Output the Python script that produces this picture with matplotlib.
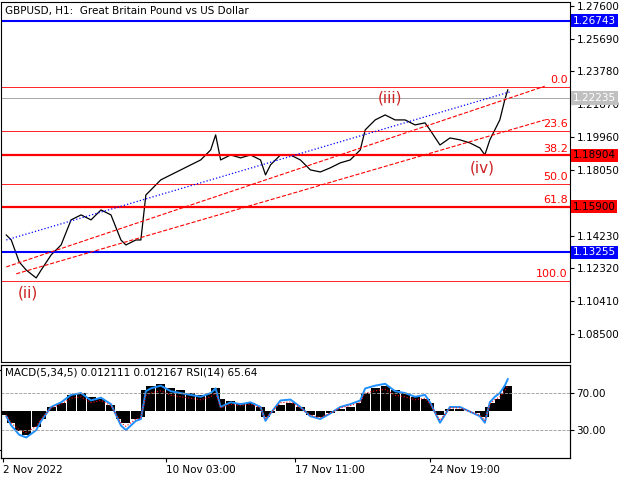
import matplotlib.pyplot as plt
import numpy as np

# price path (bar position, close)
bar_x = [5, 10, 18, 25, 35, 40, 50, 60, 70, 80, 90, 100, 110, 120, 125, 135, 140, 145, 150, 160,
         170, 180, 190, 200, 210, 215, 220, 230, 240, 250, 260, 265, 270, 280, 290, 300, 310, 320,
         330, 340, 350, 360, 365, 375, 385, 395, 405, 415, 425, 430, 440, 450, 460, 470, 480, 485,
         490, 495, 500, 505, 508]
close = [1.1426, 1.1397, 1.1269, 1.1222, 1.1176, 1.1222, 1.1310, 1.1368, 1.1514, 1.1543, 1.1514,
         1.1572, 1.1543, 1.1397, 1.1368, 1.1397, 1.1397, 1.1659, 1.1688, 1.1747, 1.1776, 1.1805,
         1.1834, 1.1863, 1.1921, 1.2009, 1.1863, 1.1892, 1.1875, 1.1892, 1.1863, 1.1776, 1.1834,
         1.1892, 1.1892, 1.1863, 1.1805, 1.1793, 1.1817, 1.1846, 1.1863, 1.1921, 1.2038, 1.2096,
         1.2125, 1.2096, 1.2096, 1.2067, 1.2079, 1.2038, 1.1950, 1.1991, 1.1980, 1.1962, 1.1933,
         1.1892, 1.1980, 1.2038, 1.2096, 1.2213, 1.2271]
macd = [-0.002, -0.006, -0.010, -0.012, -0.008, -0.004, 0.002, 0.004, 0.008, 0.009, 0.007, 0.006,
        0.003, -0.004, -0.006, -0.004, -0.003, 0.010, 0.012, 0.013, 0.011, 0.010, 0.009, 0.008,
        0.009, 0.011, 0.006, 0.005, 0.004, 0.004, 0.002, -0.003, -0.001, 0.003, 0.004, 0.002,
        -0.002, -0.003, -0.001, 0.001, 0.002, 0.004, 0.009, 0.011, 0.012, 0.010, 0.009, 0.007,
        0.006, 0.004, -0.002, 0.001, 0.001, 0.000, -0.001, -0.003, 0.002, 0.004, 0.006, 0.009, 0.012]
rsi = [45, 35, 25, 22, 30, 40, 55, 60, 68, 70, 62, 65, 58, 35, 30, 40, 42, 72, 75, 78, 72, 70,
       68, 66, 70, 75, 55, 60, 58, 60, 55, 40, 48, 62, 63, 55, 45, 42, 48, 55, 58, 62, 75, 78,
       80, 72, 70, 66, 68, 60, 38, 55, 55, 50, 45, 38, 60, 66, 70, 78, 85]

fib_levels = [1.2288, 1.2032, 1.1890, 1.1723, 1.1590, 1.1158]
fib_names = ['0.0', '23.6', '38.2', '50.0', '61.8', '100.0']
right_ticks = [1.27600, 1.25690, 1.23780, 1.21870, 1.19960, 1.18050, 1.14230,
               1.12320, 1.10410, 1.08500]
x_tick_pos = [2, 165, 295, 430]
x_tick_labels = ['2 Nov 2022', '10 Nov 03:00', '17 Nov 11:00', '24 Nov 19:00']

fig = plt.figure(figsize=(6.4, 4.8), dpi=100)
ax = fig.add_axes([0.002, 0.246, 0.888, 0.75])
ax.set_xlim(0, 570)
ax.set_ylim(1.0687, 1.2783)
ax.plot(bar_x, close, color='black', lw=0.9)

# horizontal levels
for lv, nm in zip(fib_levels, fib_names):
    thick = nm in ('38.2', '61.8')
    ax.axhline(lv, color='red', lw=1.6 if thick else 0.6)
    ax.text(568, lv + 0.001, nm, color='red', fontsize=8, ha='right', va='bottom')
ax.axhline(1.26743, color='blue', lw=1.5)
ax.axhline(1.13255, color='blue', lw=1.5)
ax.axhline(1.22235, color='#999999', lw=0.6)

# trend lines
ax.plot([5, 545], [1.1240, 1.2292], color='red', ls='--', lw=0.8)
ax.plot([15, 545], [1.1200, 1.2096], color='red', ls='--', lw=0.8)
ax.plot([5, 510], [1.1397, 1.2259], color='blue', ls=':', lw=0.9)

ax.text(390, 1.2200, '(iii)', color='#cc2222', fontsize=11, ha='center')
ax.text(482, 1.1790, '(iv)', color='#cc2222', fontsize=11, ha='center')
ax.text(27, 1.1060, '(ii)', color='#cc2222', fontsize=11, ha='center')
ax.text(4, 1.2760, 'GBPUSD, H1:  Great Britain Pound vs US Dollar', fontsize=7.5, va='top')

ax.set_xticks([])
ax.yaxis.tick_right()
ax.set_yticks(right_ticks)
ax.set_yticklabels([f'{t:.5f}' for t in right_ticks], fontsize=7.5)
ax.tick_params(axis='y', length=3, pad=2)

boxes = [(1.26743, '#0000ff', 'white'), (1.22235, '#c0c0c0', 'white'),
         (1.18904, '#ff0000', 'black'), (1.15900, '#ff0000', 'black'),
         (1.13255, '#0000ff', 'white')]
for v, bg, fg in boxes:
    ax.text(1.006, v, f'{v:.5f}', transform=ax.get_yaxis_transform(), fontsize=7.5,
            color=fg, va='center', ha='left',
            bbox=dict(boxstyle='square,pad=0.15', fc=bg, ec='none'))

# lower panel
ax2 = fig.add_axes([0.002, 0.046, 0.888, 0.194])
ax2.set_xlim(0, 570)
ax2.set_ylim(-0.0231, 0.0226)
ax2.bar(bar_x, macd, width=9, color='black')
ax2.yaxis.tick_right()
ax2.set_yticks([0.020148, -0.019152])
ax2.set_yticklabels(['0.020148', '-0.019152'], fontsize=7.5)
ax2.set_xticks(x_tick_pos)
ax2.set_xticklabels(x_tick_labels, fontsize=7.5, ha='left')
ax2.tick_params(axis='x', length=3, pad=2)
ax2.text(4, 0.0215, 'MACD(5,34,5) 0.012111 0.012167 RSI(14) 65.64', fontsize=7.5, va='top')

ax3 = ax2.twinx()
ax3.set_ylim(0, 100.5)
ax3.plot(bar_x, rsi, color='#1e90ff', lw=1.4)
ax3.plot(bar_x, 50 + (np.array(rsi) - 50) * 0.8, color='red', ls=':', lw=0.8)
ax3.axhline(70, color='#999999', ls='--', lw=0.6)
ax3.axhline(30, color='#999999', ls='--', lw=0.6)
ax3.set_yticks([70, 30])
ax3.set_yticklabels(['70.00', '30.00'], fontsize=7.5)
ax3.tick_params(axis='y', length=3, pad=2)

plt.savefig('out.png')
